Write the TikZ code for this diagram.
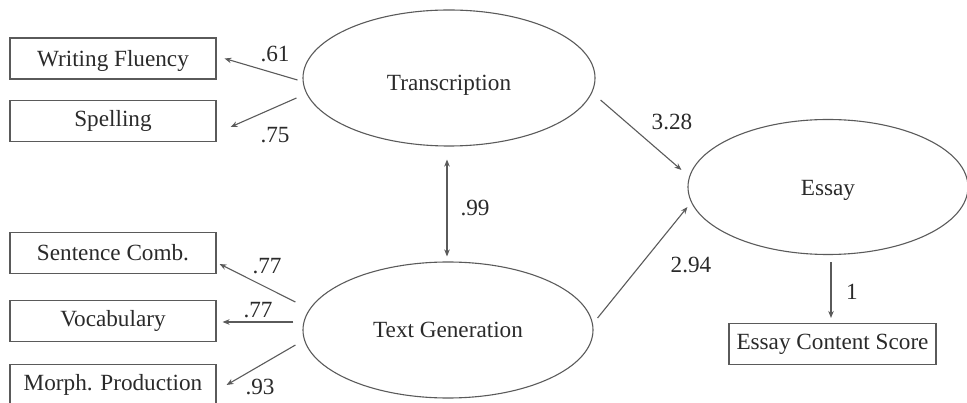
\documentclass[tikz,border=0pt]{standalone}
\usepackage{fontspec}
\setmainfont{Liberation Serif}
\usetikzlibrary{shapes.geometric,arrows.meta,calc}
\definecolor{ln}{HTML}{5A5A5A}
\definecolor{tx}{HTML}{2A2A2A}
\newcommand{\mytxt}[2]{\smash{\raisebox{-#1}{#2}}}
\tikzset{
  obs/.style={draw=ln,line width=1.1pt,rectangle,minimum width=206pt,minimum height=41pt,inner sep=0pt,text=tx},
  lat/.style={draw=ln,line width=1.1pt,ellipse,inner sep=0pt,text=tx},
  arr/.style={draw=ln,line width=1.1pt,-{Stealth[length=7pt,width=5.5pt]}},
  darr/.style={draw=ln,line width=1.1pt,{Stealth[length=7pt,width=5.5pt]}-{Stealth[length=7pt,width=5.5pt]}},
  lab/.style={text=tx,inner sep=0pt}
}
\begin{document}
\begin{tikzpicture}[x=1pt,y=-1pt,font=\fontsize{23.2}{27}\selectfont]
\useasboundingbox (0,0) rectangle (967,403);
% observed boxes
\node[obs] (wf) at (113,58.5) {\mytxt{8.5pt}{Writing Fluency}};
\node[obs] (sp) at (113,121) {Spelling};
\node[obs] (sc) at (113,253) {Sentence Comb.};
\node[obs] (vo) at (113,321) {Vocabulary};
\node[obs] (mp) at (113,385) {Morph. Production};
\node[obs,minimum width=207pt] (ecs) at (832.5,344) {Essay Content Score};
% latent ellipses
\node[lat,minimum width=292pt,minimum height=136pt] (tr) at (449,78) {\mytxt{13pt}{Transcription}};
\node[lat,minimum width=290pt,minimum height=136pt] (tg) at (448,330) {Text Generation};
\node[lat,minimum width=280pt,minimum height=135pt] (es) at (828,187) {\mytxt{8.2pt}{Essay}};
% loadings
\draw[arr] ($(tr.west)+(-5,2)$) -- ($(wf.east)+(8,0)$);
\draw[arr] ($(tr.west)+(-6,20)$) -- ($(sp.east)+(14,6)$);
\draw[arr] ($(tg.west)+(-7,-28)$) -- ($(sc.east)+(3,11)$);
\draw[arr] ($(tg.west)+(-9,-8)$) -- ($(vo.east)+(6,1)$);
\draw[arr] ($(tg.west)+(-7,15)$) -- ($(mp.east)+(10,0)$);
% correlation
\draw[darr] ($(tr.south)+(-2,13)$) -- ($(tg.north)+(-1,-5)$);
% structural paths
\draw[arr] ($(tr.east)+(5,22)$) -- ($(es.west)+(-6,-17)$);
\draw[arr] ($(tg.east)+(4,-12)$) -- ($(es.west)+(0,20)$);
\draw[arr] ($(es.south)+(3,7)$) -- ($(ecs.north)+(-1.5,-5)$);
% labels
\node[lab] (l1) at (275,54) {.61};
\node[lab] (l2) at (275,135) {.75};
\node[lab] (l3) at (267,266) {.77};
\node[lab] (l4) at (258,310) {.77};
\node[lab] (l5) at (260,387) {.93};
\node[lab] (l6) at (475,208) {.99};
\node[lab] (l7) at (672,122) {3.28};
\node[lab] (l8) at (691,265) {2.94};
\node[lab] (l9) at (852,292) {1};
\end{tikzpicture}
\end{document}
